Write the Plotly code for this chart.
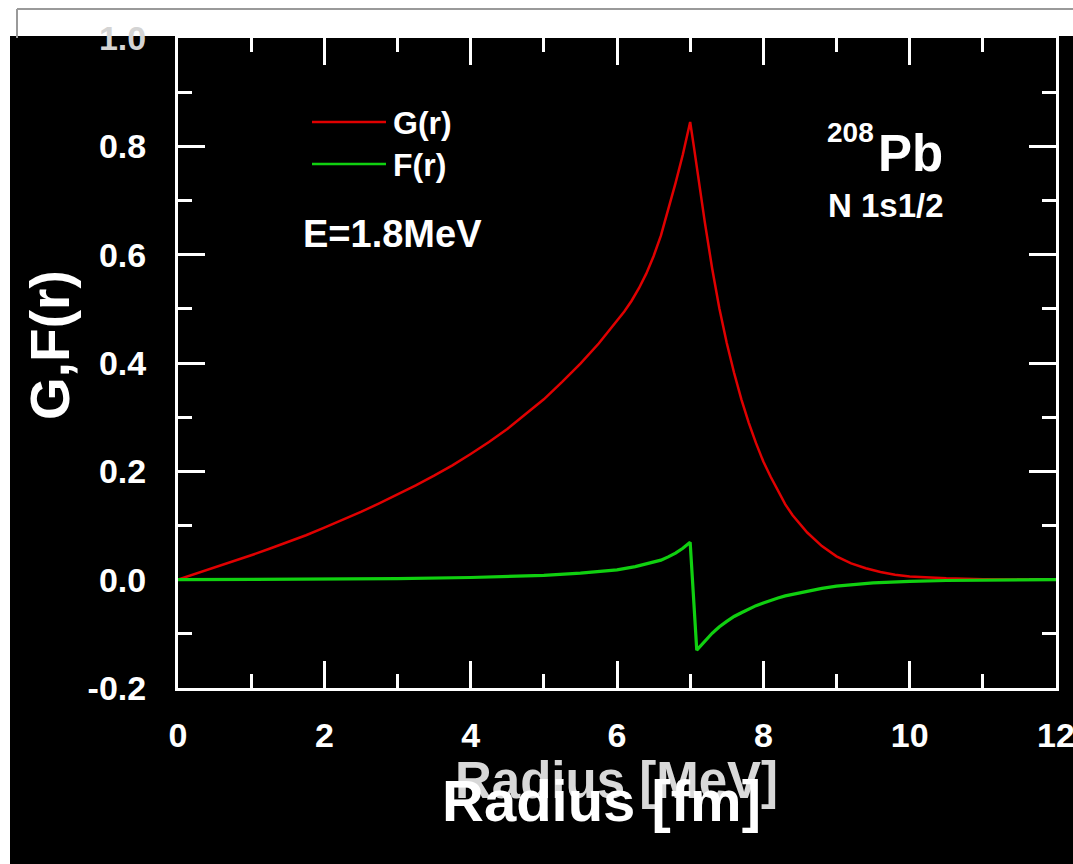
import plotly.graph_objects as go

# ---- data ----
r_G = [0, 0.25, 0.5, 0.75, 1, 1.25, 1.5, 1.75, 2, 2.25, 2.5, 2.75, 3, 3.25, 3.5, 3.75,
       4, 4.25, 4.5, 4.75, 5, 5.25, 5.5, 5.75, 6.0, 6.1, 6.2, 6.3, 6.4, 6.5, 6.6, 6.7,
       6.8, 6.9, 7.0, 7.05, 7.1, 7.15, 7.2, 7.3, 7.4, 7.5, 7.6, 7.7, 7.8, 7.9, 8.0,
       8.1, 8.2, 8.3, 8.4, 8.5, 8.6, 8.8, 9.0, 9.2, 9.4, 9.6, 9.8, 10.0, 10.25, 10.5,
       11.0, 11.5, 12.0]
G_vals = [0, 0.011, 0.022, 0.034, 0.045, 0.057, 0.069, 0.082, 0.096, 0.11, 0.125, 0.141,
          0.157, 0.174, 0.192, 0.211, 0.232, 0.254, 0.278, 0.305, 0.333, 0.365, 0.399, 0.436,
          0.477, 0.495, 0.515, 0.538, 0.565, 0.597, 0.635, 0.683, 0.732, 0.785, 0.845, 0.80,
          0.753, 0.705, 0.66, 0.575, 0.50, 0.437, 0.382, 0.333, 0.29, 0.252, 0.218, 0.19,
          0.163, 0.139, 0.119, 0.102, 0.087, 0.062, 0.043, 0.03, 0.021, 0.014, 0.009, 0.006,
          0.004, 0.0025, 0.001, 0.0003, 0.0]

r_F = [0, 1, 2, 3, 4, 4.5, 5, 5.5, 6.0, 6.25, 6.5, 6.6, 6.7, 6.8, 6.9, 7.0,
       7.09, 7.15, 7.2, 7.25, 7.3, 7.35, 7.4, 7.5, 7.6, 7.7, 7.8, 7.9, 8.0, 8.1, 8.2,
       8.3, 8.4, 8.6, 8.8, 9.0, 9.25, 9.5, 9.75, 10.0, 10.5, 11.0, 12.0]
F_vals = [0, 0.0005, 0.001, 0.002, 0.004, 0.006, 0.008, 0.012, 0.018, 0.024, 0.032, 0.036,
          0.042, 0.049, 0.058, 0.069,
          -0.13, -0.121, -0.113, -0.106, -0.099, -0.093, -0.087, -0.077, -0.068, -0.061,
          -0.054, -0.048, -0.043, -0.038, -0.034, -0.030, -0.027, -0.021, -0.016, -0.012,
          -0.0085, -0.006, -0.0045, -0.003, -0.0015, -0.001, 0.0]

y_ticks = [-0.2, 0.0, 0.2, 0.4, 0.6, 0.8, 1.0]
y_ticktext = ["-0.2", "0.0", "0.2", "0.4", "0.6", "0.8", "<span style='color:#d4d4d4'>1.0</span>"]
x_ticks = [0, 2, 4, 6, 8, 10, 12]
x_ticktext = ["0", "2", "4", "6", "8", "10", "12"]

W, H = 1073, 864
L, R, T, B = 178, 1056, 38, 688
FONT = "Liberation Sans, Arial, sans-serif"


def px(x):
    return (x - L) / (R - L)


def py(y):
    return (B - y) / (B - T)


fig = go.Figure()
fig.add_trace(go.Scatter(x=r_G, y=G_vals, mode="lines", name="G(r)",
                         line=dict(color="#e00000", width=2.5), showlegend=False))
fig.add_trace(go.Scatter(x=r_F, y=F_vals, mode="lines", name="F(r)",
                         line=dict(color="#10d010", width=3.2), showlegend=False))

axis_common = dict(showgrid=False, zeroline=False, showline=True, linecolor="white",
                   linewidth=3, mirror="ticks", ticks="inside", ticklen=27,
                   tickwidth=2.5, tickcolor="white", layer="below traces",
                   ticklabeloverflow="allow", automargin=False,
                   tickfont=dict(family=FONT, size=34, color="white", weight="bold"))

fig.update_xaxes(range=[0, 12], tickvals=x_ticks, ticktext=x_ticktext,
                 minor=dict(dtick=1, ticks="inside", ticklen=14, tickwidth=2.5, tickcolor="white"),
                 ticklabelstandoff=15, **axis_common)
fig.update_yaxes(range=[-0.2, 1.0], tickvals=y_ticks, ticktext=y_ticktext,
                 minor=dict(dtick=0.1, tick0=0, ticks="inside", ticklen=14, tickwidth=2.5, tickcolor="white"),
                 ticklabelstandoff=22, **axis_common)

shapes = [
    # white strips (outside the dark frame)
    dict(type="rect", xref="paper", yref="paper", x0=px(0), x1=px(W), y0=py(36), y1=py(0),
         fillcolor="white", line_width=0, layer="below"),
    dict(type="rect", xref="paper", yref="paper", x0=px(0), x1=px(10), y0=py(H), y1=py(0),
         fillcolor="white", line_width=0, layer="below"),
    dict(type="line", xref="paper", yref="paper", x0=px(17), x1=px(W), y0=py(9), y1=py(9),
         line=dict(color="#9a9a9a", width=2), layer="below"),
    dict(type="line", xref="paper", yref="paper", x0=px(17), x1=px(17), y0=py(9), y1=py(38),
         line=dict(color="#9a9a9a", width=2), layer="below"),
    # legend samples
    dict(type="line", xref="paper", yref="paper", x0=px(312), x1=px(386), y0=py(122), y1=py(122),
         line=dict(color="#e00000", width=2.5)),
    dict(type="line", xref="paper", yref="paper", x0=px(312), x1=px(386), y0=py(164), y1=py(164),
         line=dict(color="#10d010", width=2.5)),
]


def ann(text, x, y, size, color="white", xanchor="left", yanchor="middle", textangle=0):
    return dict(text=text, x=px(x), y=py(y), xref="paper", yref="paper", showarrow=False,
                xanchor=xanchor, yanchor=yanchor, textangle=textangle,
                font=dict(family=FONT, size=size, color=color, weight="bold"))


annotations = [
    ann("G(r)", 391, 123, 32),
    ann("F(r)", 391, 165, 32),
    ann("E=1.8MeV", 301, 234, 38),
    ann("208", 825, 132, 28),
    ann("Pb", 876, 153, 51),
    ann("N 1s1/2", 886, 206, 33, xanchor="center"),
    ann("G,F(r)", 50, 345, 55, textangle=-90, xanchor="center"),
    ann("Radius [MeV]", 616, 780, 51, color="#d8d8d8", xanchor="center"),
    ann("Radius [fm]", 601, 800, 58, xanchor="center"),
]

fig.update_layout(width=W, height=H, margin=dict(l=L, r=W - R, t=T, b=H - B, pad=0,
                                                 autoexpand=False),
                  paper_bgcolor="black", plot_bgcolor="black",
                  shapes=shapes, annotations=annotations, showlegend=False)

fig.write_html("out.html")
